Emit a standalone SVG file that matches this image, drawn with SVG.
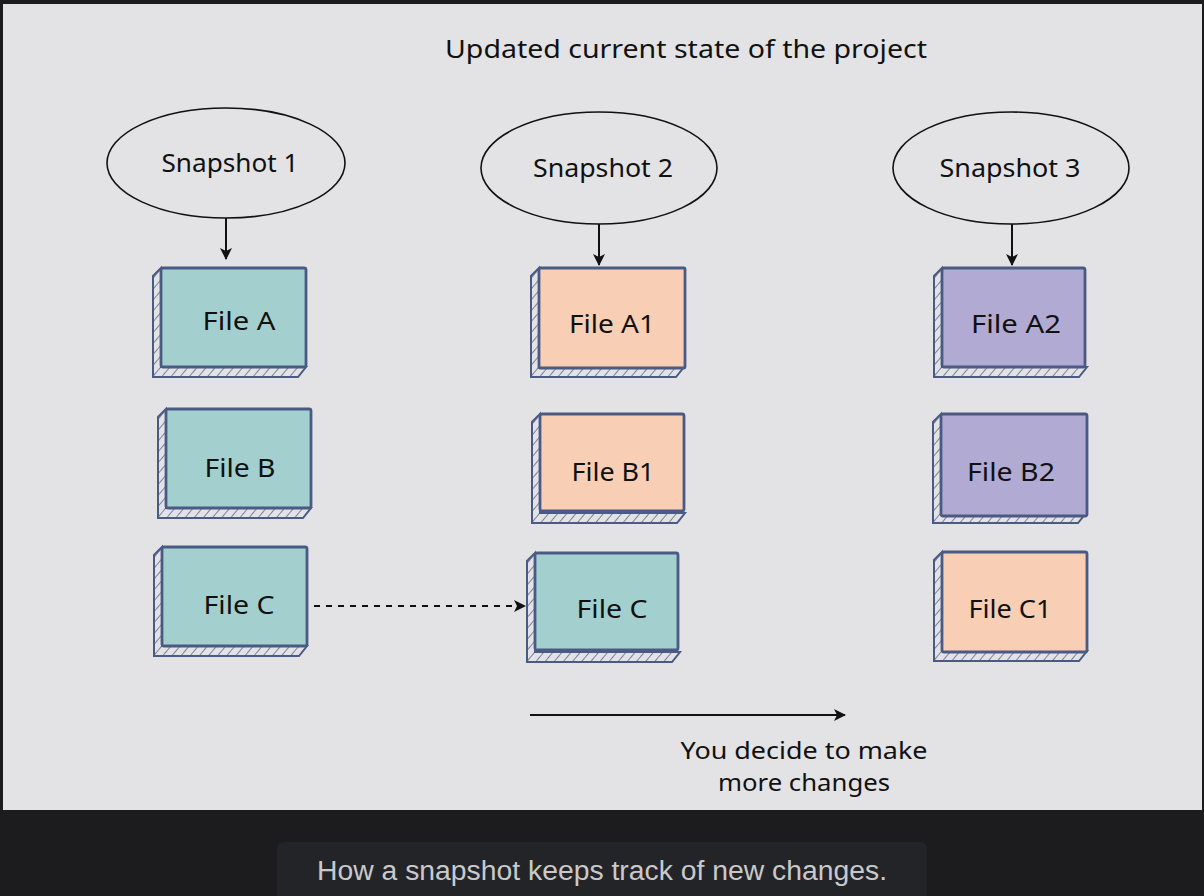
<svg xmlns="http://www.w3.org/2000/svg" xmlns:xlink="http://www.w3.org/1999/xlink" width="1204" height="896" viewBox="0 0 1204 896">
<style>
.lbl{font-family:"Noto Sans","DejaVu Sans",sans-serif;font-size:26px;fill:#111;text-anchor:middle}
.note{font-size:23px}
.ell{fill:#e3e3e5;stroke:#111;stroke-width:1.6}
.face{stroke:#4b5a84;stroke-width:2.8}
.teal{fill:#a3d0cf}
.peach{fill:#f8cfb4}
.lav{fill:#b1aad3}
.side{fill:url(#hatch);stroke:#4b5a84;stroke-width:2}
.conn{stroke:#111;stroke-width:2;fill:none}
</style>
<defs>
<pattern id="hatch" patternUnits="userSpaceOnUse" width="7" height="7" patternTransform="rotate(40)">
<rect width="7" height="7" fill="#e3e3e5"/>
<line x1="0" y1="0" x2="0" y2="7" stroke="#4b5a84" stroke-width="1.4"/>
</pattern>
<marker id="ah" viewBox="0 0 12 12" refX="11" refY="6" markerWidth="12" markerHeight="12" markerUnits="userSpaceOnUse" orient="auto">
<path d="M0,0 L12,6 L0,12 L3,6 Z" fill="#111"/>
</marker>
<path id="sidep" d="M0,0 L-8,8 L-8,109 L137,109 L145,99 L0,99 Z"/>
</defs>
<rect x="0" y="0" width="1204" height="896" fill="#1c1c1e"/>
<rect x="3" y="4" width="1199" height="806" fill="#e3e3e5"/>
<rect x="277" y="842" width="650" height="70" rx="7" fill="#232427"/>
<text x="602" y="880" text-anchor="middle" font-family="Liberation Sans, Arial, sans-serif" font-size="27" fill="#c9c9cc" textLength="570" lengthAdjust="spacingAndGlyphs">How a snapshot keeps track of new changes.</text>
<g id="title"><text class="lbl" x="686" y="58" textLength="482" lengthAdjust="spacingAndGlyphs">Updated current state of the project</text></g>
<g id="snap1"><ellipse class="ell" cx="226" cy="163" rx="119" ry="55"/><text class="lbl" x="230" y="172" textLength="137" lengthAdjust="spacingAndGlyphs">Snapshot 1</text></g>
<g id="snap2"><ellipse class="ell" cx="599" cy="168" rx="118" ry="56"/><text class="lbl" x="603" y="177" textLength="140" lengthAdjust="spacingAndGlyphs">Snapshot 2</text></g>
<g id="snap3"><ellipse class="ell" cx="1011" cy="168" rx="118" ry="56"/><text class="lbl" x="1010" y="177" textLength="141" lengthAdjust="spacingAndGlyphs">Snapshot 3</text></g>
<g id="fileA" transform="translate(161,268)"><use xlink:href="#sidep" class="side"/><rect class="face teal" width="145" height="99" rx="2"/><text class="lbl" x="78" y="62" textLength="73" lengthAdjust="spacingAndGlyphs">File A</text></g>
<g id="fileB" transform="translate(166,409)"><use xlink:href="#sidep" class="side"/><rect class="face teal" width="145" height="99" rx="2"/><text class="lbl" x="74" y="68" textLength="71" lengthAdjust="spacingAndGlyphs">File B</text></g>
<g id="fileC" transform="translate(162,547)"><use xlink:href="#sidep" class="side"/><rect class="face teal" width="145" height="99" rx="2"/><text class="lbl" x="77" y="67" textLength="71" lengthAdjust="spacingAndGlyphs">File C</text></g>
<g id="fileA1" transform="translate(539,268)"><use xlink:href="#sidep" class="side"/><rect class="face peach" width="146" height="100" rx="1"/><text class="lbl" x="73" y="65" textLength="86" lengthAdjust="spacingAndGlyphs">File A1</text></g>
<g id="fileB1" transform="translate(540,414)"><use xlink:href="#sidep" class="side"/><rect class="face peach" width="144" height="97" rx="2"/><text class="lbl" x="73" y="67" textLength="83" lengthAdjust="spacingAndGlyphs">File B1</text></g>
<g id="fileC2" transform="translate(535,553)"><use xlink:href="#sidep" class="side"/><rect class="face teal" width="143" height="97" rx="2"/><text class="lbl" x="77" y="65" textLength="71" lengthAdjust="spacingAndGlyphs">File C</text></g>
<g id="fileA2" transform="translate(942,268)"><use xlink:href="#sidep" class="side"/><rect class="face lav" width="143" height="99" rx="2"/><text class="lbl" x="74" y="65" textLength="90" lengthAdjust="spacingAndGlyphs">File A2</text></g>
<g id="fileB2" transform="translate(941,414)"><use xlink:href="#sidep" class="side"/><rect class="face lav" width="146" height="102" rx="2"/><text class="lbl" x="70" y="67" textLength="88" lengthAdjust="spacingAndGlyphs">File B2</text></g>
<g id="fileC1" transform="translate(942,552)"><use xlink:href="#sidep" class="side"/><rect class="face peach" width="145" height="100" rx="2"/><text class="lbl" x="68" y="66" textLength="83" lengthAdjust="spacingAndGlyphs">File C1</text></g>
<g id="note"><text class="lbl note" x="804" y="759" textLength="247" lengthAdjust="spacingAndGlyphs">You decide to make</text><text class="lbl note" x="804" y="791" textLength="172" lengthAdjust="spacingAndGlyphs">more changes</text></g>
<g id="connectors">
<line class="conn" x1="226" y1="218" x2="226" y2="259" marker-end="url(#ah)"/>
<line class="conn" x1="599" y1="224" x2="599" y2="265" marker-end="url(#ah)"/>
<line class="conn" x1="1012" y1="224" x2="1012" y2="265" marker-end="url(#ah)"/>
<line class="conn" x1="314" y1="606" x2="525" y2="606" stroke-dasharray="6,6" marker-end="url(#ah)"/>
<line class="conn" x1="530" y1="715" x2="845" y2="715" marker-end="url(#ah)"/>
</g>
</svg>
